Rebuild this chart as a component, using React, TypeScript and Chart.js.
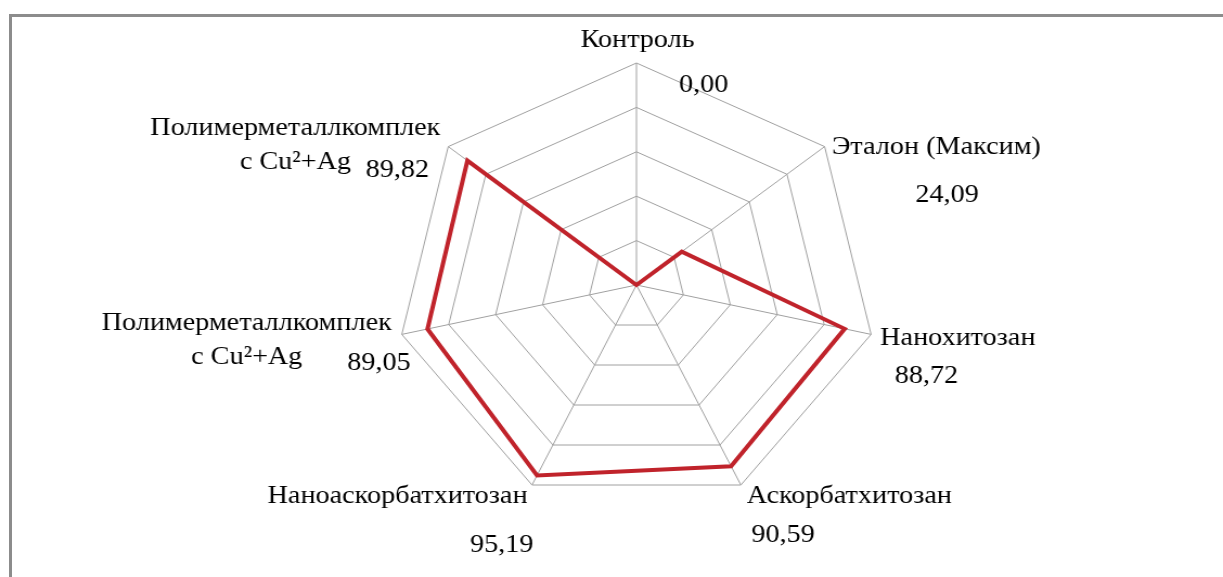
import React, { useEffect, useRef } from "react";
import { Chart, registerables } from "chart.js";

Chart.register(...registerables);

// ---- data ----
const categories: (string | string[])[] = [
  "Контроль",
  "Эталон (Максим)",
  "Нанохитозан",
  "Аскорбатхитозан",
  "Наноаскорбатхитозан",
  ["Полимерметаллкомплек", "с Cu²+Ag"],
  ["Полимерметаллкомплек", "с Cu²+Ag"],
];
const values = [0.0, 24.09, 88.72, 90.59, 95.19, 89.05, 89.82];
const scaleMin = 0;
const scaleMax = 100;
const scaleStep = 20;

// ---- layout / style ----
const W = 1223;
const H = 577;
const CW = 1128; // internal canvas width (stretched horizontally to W)
const SX = W / CW;
const FONT = '26px "Liberation Serif", "Times New Roman", serif';
const LINE_H = 34;
// offsets (internal px) of category label first baseline, relative to axis outer vertex
const catOffsets: [number, number][] = [
  [1, -16],
  [103, 7],
  [80, 11],
  [100, 18],
  [-124, 18],
  [-143, -4],
  [-141, -12],
];
// offsets of value labels (baseline) relative to axis outer vertex
const valOffsets: [number, number][] = [
  [62, 29],
  [113, 55],
  [51, 49],
  [39, 57],
  [-28, 67],
  [-21, 36],
  [-47, 30],
];

const labelPlugin = {
  id: "customRadarLabels",
  afterDatasetsDraw(chart: any) {
    const scale = chart.scales.r;
    const ctx = chart.ctx as CanvasRenderingContext2D;
    ctx.save();
    ctx.font = FONT;
    ctx.fillStyle = "#000000";
    ctx.textAlign = "center";
    ctx.textBaseline = "alphabetic";
    categories.forEach((cat, i) => {
      const p = scale.getPointPosition(i, scale.drawingArea);
      const lines = Array.isArray(cat) ? cat : [cat];
      const [cx, cy] = catOffsets[i];
      lines.forEach((ln, k) => ctx.fillText(ln, p.x + cx, p.y + cy + k * LINE_H));
      const [vx, vy] = valOffsets[i];
      ctx.fillText(values[i].toFixed(2).replace(".", ","), p.x + vx, p.y + vy);
    });
    ctx.restore();
  },
};

export default function App() {
  const ref = useRef<HTMLCanvasElement>(null);
  useEffect(() => {
    if (!ref.current) return;
    const chart = new Chart(ref.current, {
      type: "radar",
      data: {
        labels: categories.map((c) => (Array.isArray(c) ? c.join(" ") : c)),
        datasets: [
          {
            data: values,
            borderColor: "#C0232B",
            backgroundColor: "rgba(0,0,0,0)",
            borderWidth: 4,
            fill: false,
            pointRadius: 0,
            pointHoverRadius: 0,
            tension: 0,
          },
        ],
      },
      options: {
        responsive: false,
        animation: false,
        devicePixelRatio: 1,
        layout: { padding: { left: 365, right: 319, top: 63, bottom: 70 } },
        plugins: { legend: { display: false }, tooltip: { enabled: false } },
        scales: {
          r: {
            min: scaleMin,
            max: scaleMax,
            ticks: { stepSize: scaleStep, display: false },
            grid: { color: "#a0a0a0", lineWidth: 1 },
            angleLines: { color: "#a0a0a0", lineWidth: 1 },
            pointLabels: { display: false },
          },
        },
      },
      plugins: [labelPlugin],
    });
    return () => chart.destroy();
  }, []);

  return (
    <div
      style={{
        position: "fixed",
        left: 0,
        top: 0,
        width: W,
        height: H,
        overflow: "hidden",
        background: "#ffffff",
      }}
    >
      <div
        style={{
          position: "absolute",
          left: 0,
          top: 0,
          width: CW,
          height: H,
          transform: `scaleX(${SX})`,
          transformOrigin: "0 0",
        }}
      >
        <canvas ref={ref} width={CW} height={H} style={{ display: "block" }} />
      </div>
      <div
        style={{
          position: "absolute",
          left: 9,
          top: 14,
          right: 0,
          bottom: 0,
          borderTop: "3px solid #8c8c8c",
          borderLeft: "3px solid #8c8c8c",
        }}
      />
    </div>
  );
}
